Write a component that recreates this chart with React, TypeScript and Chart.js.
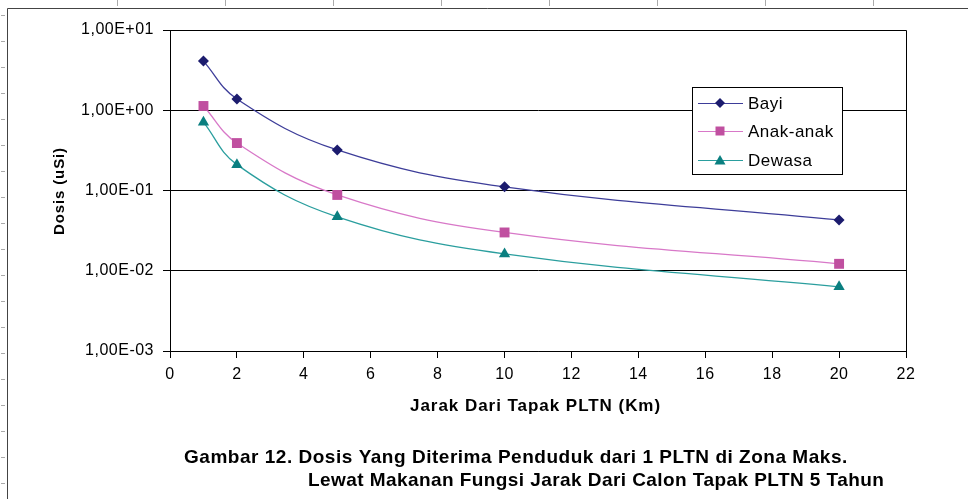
import React, { useEffect, useRef } from "react";
import { Chart, registerables } from "chart.js";

Chart.register(...registerables);

const distances = [1, 2, 5, 10, 20];
const bayi = [4.1, 1.38, 0.32, 0.111, 0.043];
const anakAnak = [1.13, 0.39, 0.088, 0.03, 0.0122];
const dewasa = [0.71, 0.21, 0.047, 0.0162, 0.0063];
const seriesNames = ["Bayi", "Anak-anak", "Dewasa"];
const yTicks = [0.001, 0.01, 0.1, 1, 10];
const xTitle = "Jarak Dari Tapak PLTN (Km)";
const yTitle = "Dosis (uSi)";
const captionLines = [
  "Gambar 12. Dosis Yang Diterima Penduduk dari 1 PLTN di Zona Maks.",
  "Lewat Makanan Fungsi Jarak Dari Calon Tapak PLTN 5 Tahun",
];

function fmtExp(v: number): string {
  const e = Math.round(Math.log10(v));
  const sign = e < 0 ? "-" : "+";
  const a = Math.abs(e);
  return "1,00E" + sign + (a < 10 ? "0" + a : String(a));
}

const FONT = "Arial, 'Liberation Sans', sans-serif";

function fitText(ctx: any, text: string, x: number, y: number, font: string, width: number) {
  ctx.font = font;
  ctx.letterSpacing = "0px";
  const w = ctx.measureText(text).width;
  const ls = (width - w) / Math.max(1, text.length - 1);
  ctx.letterSpacing = ls.toFixed(2) + "px";
  ctx.fillText(text, x, y);
  ctx.letterSpacing = "0px";
}

const framePlugin = {
  id: "frame",
  beforeDraw(chart: any) {
    const ctx = chart.ctx;
    ctx.save();
    ctx.fillStyle = "#ffffff";
    ctx.fillRect(0, 0, chart.width, chart.height);
    ctx.strokeStyle = "#444444";
    ctx.lineWidth = 1;
    ctx.beginPath();
    ctx.moveTo(7.5, 8.5);
    ctx.lineTo(chart.width, 8.5);
    ctx.moveTo(7.5, 8.5);
    ctx.lineTo(7.5, chart.height);
    ctx.stroke();
    ctx.strokeStyle = "#aaaaaa";
    ctx.beginPath();
    for (let x = 117; x < chart.width; x += 108) {
      ctx.moveTo(x + 0.5, 0);
      ctx.lineTo(x + 0.5, 6);
    }
    for (let y = 15; y < chart.height; y += 26) {
      ctx.moveTo(1, y + 0.5);
      ctx.lineTo(5, y + 0.5);
    }
    ctx.stroke();
    ctx.restore();
    ctx.letterSpacing = "0.5px";
  },
  afterDraw(chart: any) {
    const ctx = chart.ctx;
    const a = chart.chartArea;
    ctx.save();
    ctx.letterSpacing = "0px";
    ctx.strokeStyle = "#000000";
    ctx.lineWidth = 1;
    ctx.beginPath();
    ctx.moveTo(a.left, Math.round(a.top) + 0.5);
    ctx.lineTo(Math.round(a.right) + 0.5, Math.round(a.top) + 0.5);
    ctx.lineTo(Math.round(a.right) + 0.5, a.bottom);
    ctx.stroke();

    // legend
    const lx = 692, ly = 87, lw = 150, lh = 87;
    ctx.fillStyle = "#ffffff";
    ctx.fillRect(lx, ly, lw, lh);
    ctx.strokeStyle = "#000000";
    ctx.strokeRect(lx + 0.5, ly + 0.5, lw, lh);
    const rows = [103, 131, 160];
    chart.data.datasets.forEach((ds: any, i: number) => {
      const y = rows[i];
      ctx.strokeStyle = ds.borderColor;
      ctx.lineWidth = 1.2;
      ctx.beginPath();
      ctx.moveTo(698, y + 0.5);
      ctx.lineTo(743, y + 0.5);
      ctx.stroke();
      ctx.fillStyle = ds.pointBackgroundColor;
      const cx = 720;
      ctx.beginPath();
      if (ds.pointStyle === "rectRot") {
        ctx.moveTo(cx, y - 5);
        ctx.lineTo(cx + 5, y);
        ctx.lineTo(cx, y + 5);
        ctx.lineTo(cx - 5, y);
      } else if (ds.pointStyle === "rect") {
        ctx.rect(cx - 4.5, y - 4.5, 9, 9);
      } else {
        ctx.moveTo(cx, y - 5);
        ctx.lineTo(cx + 5.5, y + 4.5);
        ctx.lineTo(cx - 5.5, y + 4.5);
      }
      ctx.closePath();
      ctx.fill();
      ctx.fillStyle = "#000000";
      ctx.font = "17px " + FONT;
      ctx.letterSpacing = "0.5px";
      ctx.textAlign = "left";
      ctx.textBaseline = "middle";
      ctx.fillText(ds.label, 748, y + 1);
      ctx.letterSpacing = "0px";
    });

    ctx.fillStyle = "#000000";
    ctx.textBaseline = "middle";
    ctx.textAlign = "left";
    // x axis title
    fitText(ctx, xTitle, 410, 406, "bold 17px " + FONT, 250);
    // y axis title
    ctx.save();
    ctx.translate(60, 235);
    ctx.rotate(-Math.PI / 2);
    fitText(ctx, yTitle, 0, 0, "bold 15px " + FONT, 87);
    ctx.restore();
    // caption
    fitText(ctx, captionLines[0], 184, 458, "bold 19px " + FONT, 663);
    fitText(ctx, captionLines[1], 308, 481, "bold 19px " + FONT, 576);
    ctx.restore();
  },
};

export default function App() {
  const ref = useRef<HTMLCanvasElement | null>(null);
  useEffect(() => {
    document.body.style.margin = "0";
    const canvas = ref.current!;
    const mk = (label: string, data: number[], line: string, fill: string, style: string, r: number) => ({
      label,
      data: distances.map((x, i) => ({ x, y: data[i] })),
      borderColor: line,
      backgroundColor: fill,
      pointBackgroundColor: fill,
      pointBorderColor: fill,
      pointStyle: style,
      pointRadius: r,
      pointBorderWidth: 0,
      borderWidth: 1.3,
      tension: 0.4,
      fill: false,
    });
    const chart = new Chart(canvas, {
      type: "line",
      data: {
        datasets: [
          mk(seriesNames[0], bayi, "#3d3d99", "#1c1c6e", "rectRot", 5.5),
          mk(seriesNames[1], anakAnak, "#d878c8", "#c050a0", "rect", 7),
          mk(seriesNames[2], dewasa, "#2a9e9e", "#0a7f80", "triangle", 6.5),
        ] as any,
      },
      options: {
        animation: false,
        responsive: false,
        devicePixelRatio: 1,
        layout: { padding: { left: 0, right: 62, top: 30, bottom: 82.6 } },
        plugins: {
          legend: { display: false },
          tooltip: { enabled: false },
        },
        scales: {
          x: {
            type: "linear",
            min: 0,
            max: 22,
            ticks: {
              stepSize: 2,
              color: "#000000",
              font: { family: FONT, size: 16 },
              padding: 7,
              maxRotation: 0,
            },
            grid: {
              drawOnChartArea: false,
              drawTicks: true,
              tickLength: 7,
              tickColor: "#000000",
            },
            border: { color: "#000000", width: 1 },
            title: { display: false },
            afterFit: (s: any) => {
              s.height = 65.4;
            },
          } as any,
          y: {
            type: "logarithmic",
            min: 0.001,
            max: 10,
            afterBuildTicks: (s: any) => {
              s.ticks = yTicks.map((v) => ({ value: v, major: true }));
            },
            ticks: {
              color: "#000000",
              font: { family: FONT, size: 16 },
              padding: 9,
              callback: (v: any) => fmtExp(Number(v)),
            },
            grid: {
              color: "#000000",
              lineWidth: 1,
              drawTicks: true,
              tickLength: 7,
              tickColor: "#000000",
            },
            border: { color: "#000000", width: 1 },
            title: { display: false },
            afterFit: (s: any) => {
              s.width = 170;
            },
          } as any,
        },
      },
      plugins: [framePlugin],
    });
    return () => chart.destroy();
  }, []);
  return <canvas ref={ref} width={968} height={499} style={{ display: "block", width: 968, height: 499 }} />;
}
